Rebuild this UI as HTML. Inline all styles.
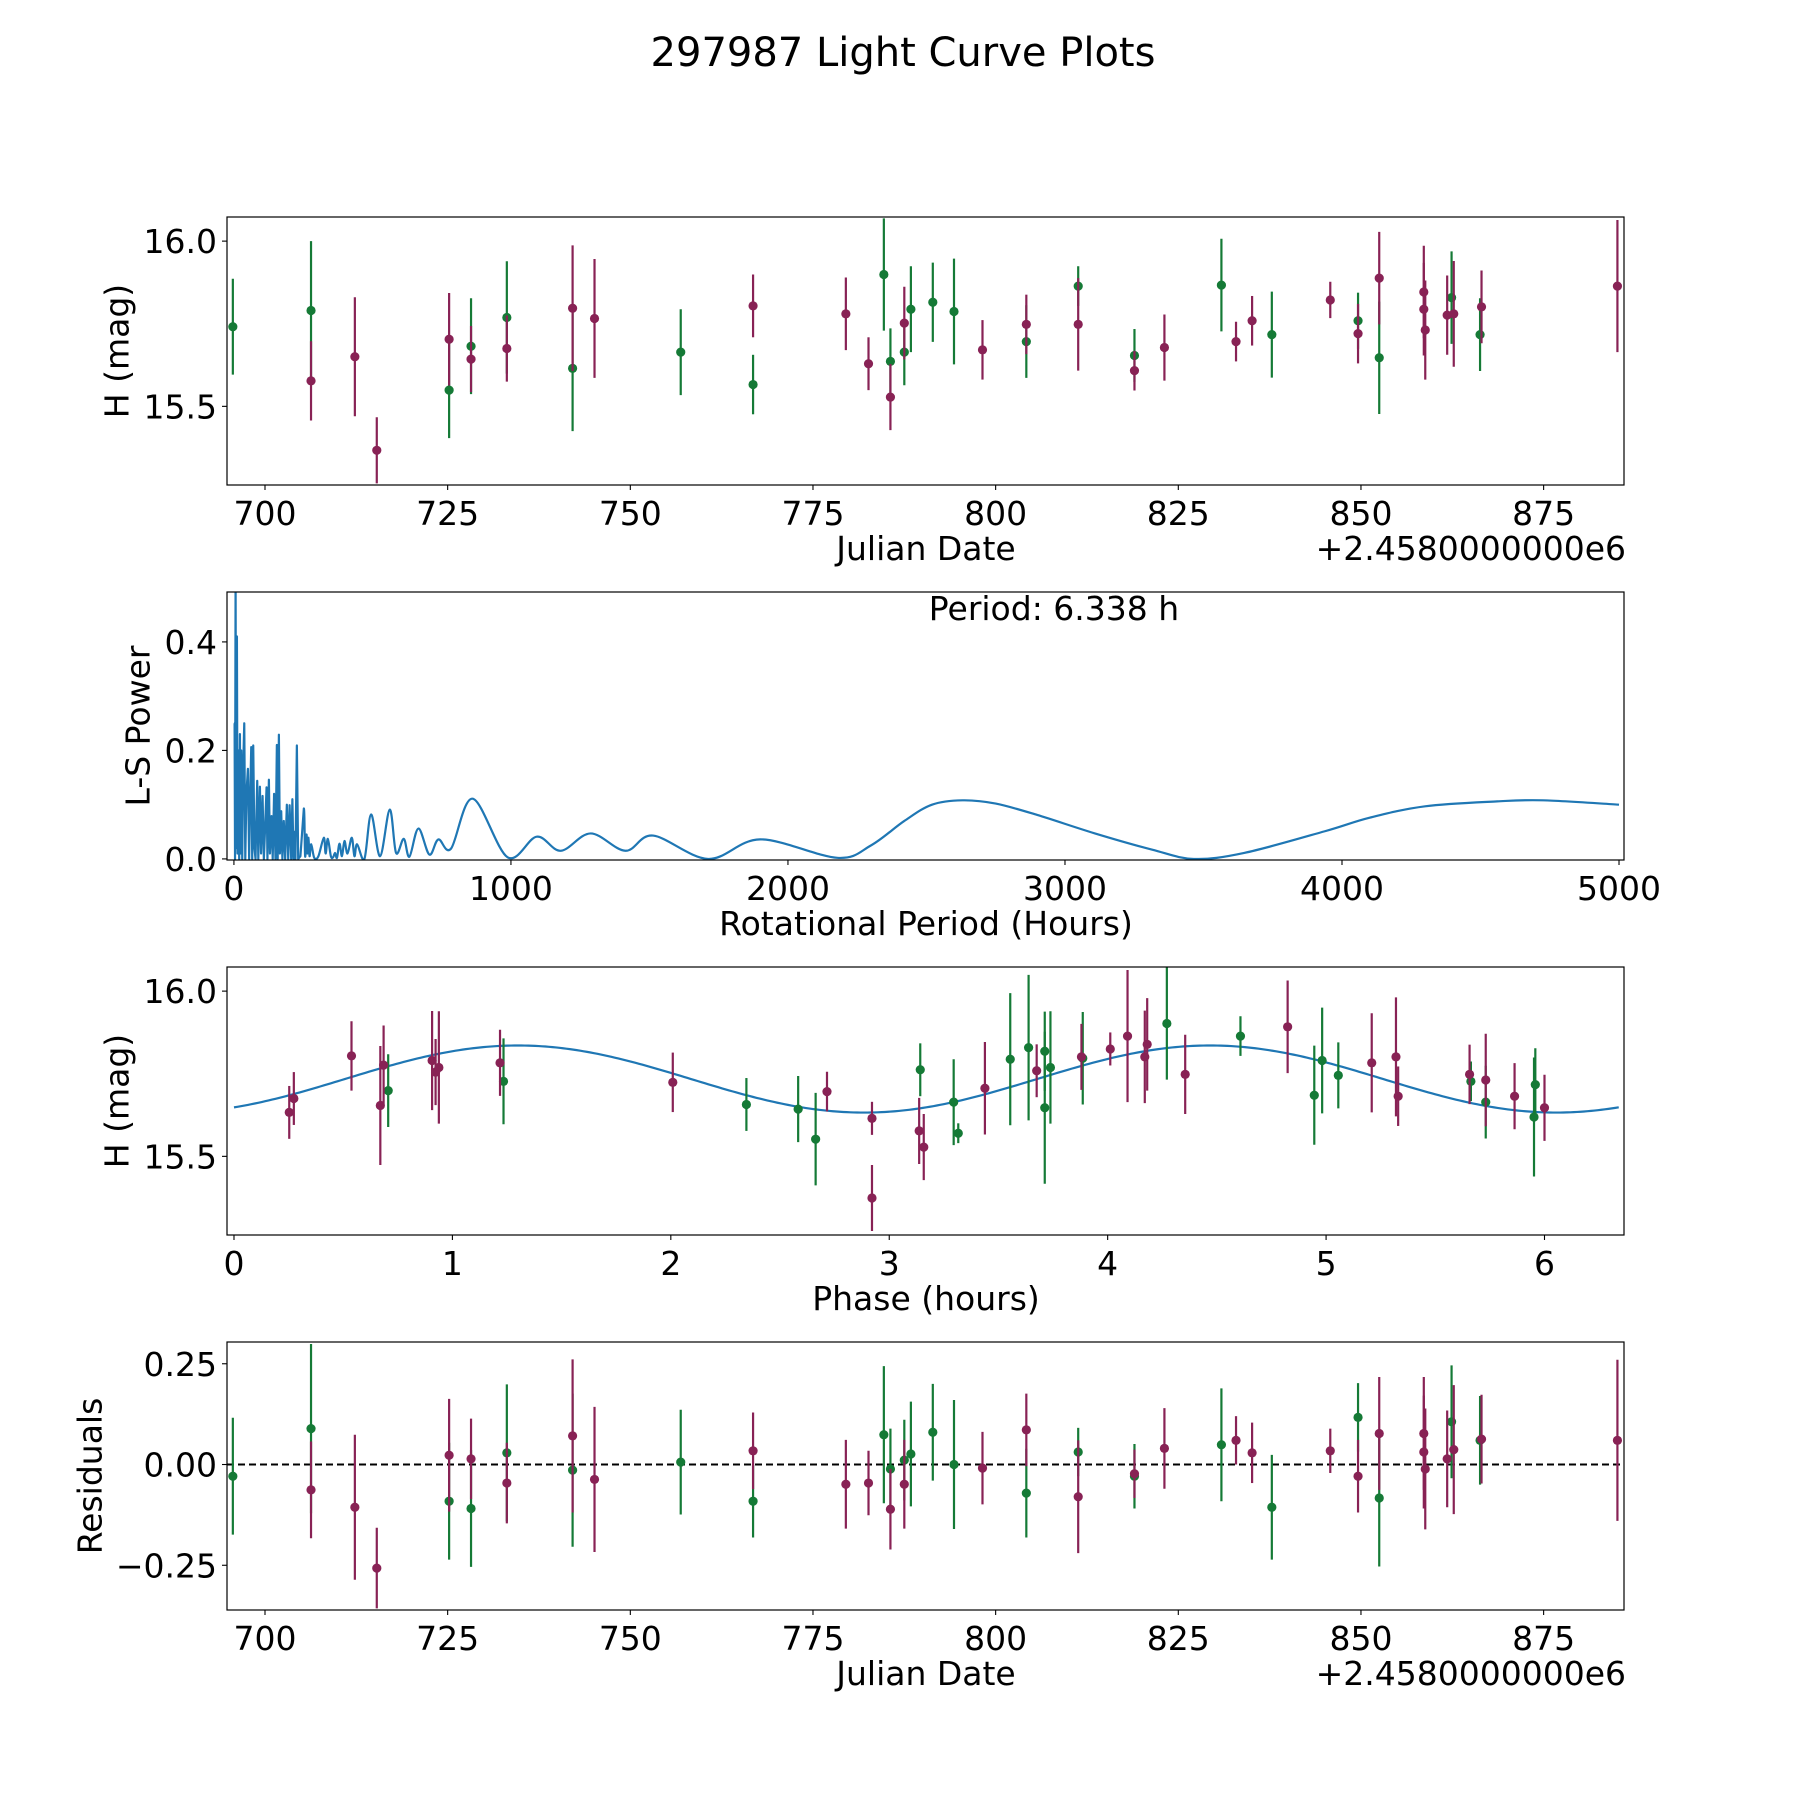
<!DOCTYPE html>
<html><head><meta charset="utf-8"><style>
html,body{margin:0;padding:0;background:#fff;}
svg text{font-family:"DejaVu Sans","Liberation Sans",sans-serif;fill:#000;}
</style></head><body>
<svg id="fig" width="1800" height="1800" viewBox="0 0 1800 1800" xmlns="http://www.w3.org/2000/svg">
<rect width="1800" height="1800" fill="#fff"/>
<text x="903" y="66" font-size="40" text-anchor="middle">297987 Light Curve Plots</text>
</svg>
<script>
// ---------- DATA ----------
const greenDates = [695.6,706.3,725.2,728.2,733.1,742.1,756.9,766.8,784.7,785.6,787.5,788.4,791.4,794.3,804.2,811.3,819.0,830.9,837.8,849.6,852.5,862.4,866.3];
const greenMags  = [15.741,15.790,15.549,15.682,15.769,15.615,15.664,15.566,15.899,15.636,15.664,15.794,15.815,15.787,15.696,15.864,15.654,15.867,15.717,15.759,15.647,15.829,15.717];
const greenErrs  = [0.145,0.21,0.145,0.145,0.17,0.19,0.13,0.09,0.17,0.10,0.10,0.13,0.12,0.16,0.11,0.06,0.08,0.14,0.13,0.085,0.17,0.14,0.11];
const greenResid = [-0.029,0.089,-0.091,-0.109,0.029,-0.014,0.006,-0.091,0.074,-0.011,0.011,0.026,0.08,0.0,-0.071,0.031,-0.029,0.049,-0.106,0.117,-0.083,0.106,0.06];
const magDates = [706.3,712.3,715.3,725.2,728.2,733.1,742.1,745.1,766.8,779.5,782.6,785.6,787.5,798.2,804.2,811.3,819.0,823.1,832.9,835.1,845.8,849.6,852.5,858.6,858.6,858.8,861.8,862.7,866.5,885.1];
const magMags  = [15.577,15.650,15.367,15.703,15.643,15.675,15.797,15.766,15.804,15.780,15.629,15.528,15.752,15.671,15.748,15.748,15.608,15.678,15.696,15.759,15.822,15.720,15.888,15.846,15.794,15.731,15.776,15.780,15.801,15.864];
const magErrs  = [0.12,0.18,0.10,0.14,0.10,0.10,0.19,0.18,0.095,0.11,0.08,0.10,0.11,0.09,0.09,0.14,0.06,0.10,0.06,0.075,0.055,0.09,0.14,0.14,0.14,0.15,0.12,0.16,0.11,0.2];
const magResid = [-0.063,-0.106,-0.257,0.023,0.014,-0.046,0.071,-0.037,0.034,-0.049,-0.046,-0.111,-0.049,-0.009,0.086,-0.08,-0.023,0.04,0.06,0.029,0.034,-0.029,0.077,0.077,0.031,-0.011,0.014,0.037,0.063,0.06];
const greenPhase = [0.706,1.234,2.346,2.583,2.663,3.142,3.295,3.316,3.554,3.638,3.712,3.712,3.738,3.886,4.271,4.608,4.946,4.982,5.056,5.663,5.731,5.952,5.958];
const greenPhaseMag = [15.699,15.727,15.657,15.643,15.552,15.762,15.664,15.570,15.794,15.829,15.818,15.647,15.769,15.797,15.902,15.864,15.685,15.790,15.745,15.727,15.664,15.619,15.717];
const greenPhaseErr = [0.11,0.13,0.08,0.10,0.14,0.08,0.13,0.03,0.20,0.22,0.12,0.23,0.17,0.14,0.17,0.06,0.15,0.16,0.10,0.06,0.11,0.18,0.11];
const magPhase = [0.253,0.274,0.538,0.670,0.685,0.907,0.923,0.938,1.218,2.009,2.715,2.921,2.921,3.137,3.158,3.438,3.675,3.880,4.012,4.091,4.170,4.181,4.355,4.824,5.209,5.320,5.330,5.657,5.731,5.863,6.000];
const magPhaseMag = [15.633,15.675,15.804,15.654,15.776,15.790,15.755,15.769,15.783,15.724,15.696,15.615,15.374,15.577,15.528,15.706,15.759,15.801,15.825,15.864,15.801,15.839,15.748,15.892,15.783,15.801,15.682,15.748,15.731,15.682,15.647];
const magPhaseErr = [0.08,0.08,0.105,0.18,0.12,0.15,0.10,0.17,0.10,0.09,0.06,0.05,0.10,0.10,0.10,0.14,0.08,0.10,0.05,0.20,0.14,0.14,0.12,0.14,0.15,0.18,0.09,0.09,0.14,0.10,0.10];
const fitMean = 15.734, fitAmp = 0.1015, fitHalfPeriod = 3.169, fitPeakPhase = 1.3;
const lsPeriods = [
 0,2.4,4,6,8,10.8,13,16,19,21.6,
 24,26.4,30,33,37.3,41,45,50.5,55,58,
 62.5,66,69.7,74,78,84.1,88,93.8,98,103.4,
 108,112,117.8,121,126.2,130,135.8,140,145,150,
 155,158,162.3,166,170.7,175,180,185,191,196,
 201,206.7,211,215,218.8,222,227.2,232,240,252.4,
 257,262,265,269,273,279,290,305,324.5,331,
 339,350,358,365,372,381,390,399,410,425.5,
 435,444.7,471,495.2,527.6,562.5,585.3,613,633.4,665.9,
 705.5,738,783.7,861.8,988,1093,1180,1288,1413,1513,
 1712,1900,2178,2300,2420,2520,2630,2750,2900,3108,
 3315,3465,3647,3938,4100,4300,4560,4726,5000];
const lsPower = [
 0.25,0.25,0.0,0.52,0.02,0.41,0.01,0.20,0.0,0.23,
 0.01,0.20,0.0,0.16,0.25,0.0,0.12,0.166,0.0,0.10,
 0.206,0.0,0.209,0.02,0.0,0.144,0.0,0.133,0.01,0.116,
 0.0,0.05,0.132,0.0,0.146,0.01,0.079,0.0,0.12,0.0,
 0.21,0.0,0.229,0.01,0.088,0.0,0.07,0.0,0.10,0.0,
 0.099,0.0,0.11,0.0,0.05,0.0,0.209,0.0,0.005,0.093,
 0.005,0.045,0.01,0.039,0.005,0.027,0.002,0.005,0.039,0.01,
 0.037,0.005,0.003,0.011,0.002,0.028,0.005,0.033,0.01,0.039,
 0.005,0.027,0.0,0.082,0.005,0.091,0.011,0.037,0.004,0.056,
 0.008,0.036,0.019,0.111,0.003,0.041,0.015,0.047,0.015,0.043,
 0.0,0.036,0.002,0.025,0.07,0.1,0.108,0.102,0.081,0.047,
 0.017,0.0,0.011,0.051,0.076,0.097,0.106,0.108,0.1];
const jdTicks = [700,725,750,775,800,825,850,875];
const magTicks = [15.5,16.0];
const lsXTicks = [0,1000,2000,3000,4000,5000];
const lsYTicks = [0.0,0.2,0.4];
const phaseTicks = [0,1,2,3,4,5,6];
const residTicks = [-0.25,0.0,0.25];

// ---------- DRAWING ----------
const NS='http://www.w3.org/2000/svg';
const svg=document.getElementById('fig');
const GREEN='#157a36', MAG='#882255', BLUE='#1f77b4';
const FS=33;
function mk(tag,attrs,parent){const e=document.createElementNS(NS,tag);for(const k in attrs)e.setAttribute(k,attrs[k]);(parent||svg).appendChild(e);return e;}
const L=227,R=1624,H=268;
function panel(id,top,xlim,ylim){
  const sx=v=>L+(v-xlim[0])/(xlim[1]-xlim[0])*(R-L);
  const sy=v=>top+H-(v-ylim[0])/(ylim[1]-ylim[0])*H;
  const cp=mk('clipPath',{id:'clip'+id});
  mk('rect',{x:L,y:top,width:R-L,height:H},cp);
  const g=mk('g',{'clip-path':'url(#clip'+id+')'});
  
  
  return {sx,sy,g,top};
}
function frame(p,id){
  const r=mk('rect',{x:L,y:p.top,width:R-L,height:H,fill:'none',stroke:'#000','stroke-width':1.2});
  
  
}
function xticks(p,ticks,fmt,id){
  ticks.forEach(t=>{const x=p.sx(t);
    const l=mk('line',{x1:x,x2:x,y1:p.top+H,y2:p.top+H+5,stroke:'#000','stroke-width':1.1});
    
    
    const tx=mk('text',{x:x,y:p.top+H+40,'font-size':FS,'text-anchor':'middle'});
    tx.textContent=fmt(t);
    
    
  });
}
function yticks(p,ticks,fmt,id){
  ticks.forEach(t=>{const y=p.sy(t);
    const l=mk('line',{x1:L-5,x2:L,y1:y,y2:y,stroke:'#000','stroke-width':1.1});
    
    
    const tx=mk('text',{x:L-10,y:y+12,'font-size':FS,'text-anchor':'end'});
    tx.textContent=fmt(t);
    
    
  });
}
function label(text,x,y,rot,name){
  const t=mk('text',{x:x,y:y,'font-size':FS,'text-anchor':'middle','dominant-baseline':rot?'central':'auto',transform:rot?`rotate(-90 ${x} ${y})`:''});
  t.textContent=text;
  
  
  return t;
}
function errpts(p,xs,ys,es,color,name){
  xs.forEach((xv,i)=>{const x=p.sx(xv);
    const l=mk('line',{x1:x,x2:x,y1:p.sy(ys[i]+es[i]),y2:p.sy(ys[i]-es[i]),stroke:color,'stroke-width':2.2},p.g);
    
    
    const c=mk('circle',{cx:x,cy:p.sy(ys[i]),r:4.6,fill:color},p.g);
    
    
  });
}
const f1=v=>v.toFixed(1), f0=v=>String(v);
const f2=v=>(v<0?'\u2212':'')+Math.abs(v).toFixed(2);
const magLim=[15.262,16.073];
const jdLim=[694.8,886.0];

// Panel 1
const p1=panel('lightcurve',217,jdLim,magLim);
errpts(p1,greenDates,greenMags,greenErrs,GREEN,'green-obs');
errpts(p1,magDates,magMags,magErrs,MAG,'magenta-obs');
frame(p1,'lightcurve');xticks(p1,jdTicks,f0,'lightcurve');yticks(p1,magTicks,f1,'lightcurve');
label('Julian Date',926,560,false,'lightcurve-x-axis-title');
const off1=mk('text',{x:1626,y:560,'font-size':FS,'text-anchor':'end'});off1.textContent='+2.4580000000e6';


label('H (mag)',117,351,true,'lightcurve-y-axis-title');

// Panel 2
const p2=panel('periodogram',592,[-25,5018],[-0.002,0.492]);
{
  const n=Math.min(lsPeriods.length,lsPower.length);
  const pts=[];for(let i=0;i<n;i++)pts.push([p2.sx(lsPeriods[i]),p2.sy(lsPower[i])]);
  let d='M'+pts[0][0]+','+pts[0][1];
  for(let i=0;i<n-1;i++){
    const p0=pts[Math.max(0,i-1)],a=pts[i],b=pts[i+1],p3=pts[Math.min(n-1,i+2)];
    if(lsPeriods[i]<250){d+=' L'+b[0]+','+b[1];continue;}
    const c1=[a[0]+(b[0]-p0[0])/6,a[1]+(b[1]-p0[1])/6],c2=[b[0]-(p3[0]-a[0])/6,b[1]-(p3[1]-a[1])/6];
    d+=` C${c1[0]},${c1[1]} ${c2[0]},${c2[1]} ${b[0]},${b[1]}`;
  }
  const path=mk('path',{d:d,fill:'none',stroke:BLUE,'stroke-width':2.2,'stroke-linejoin':'round'},p2.g);
  
  
}
frame(p2,'periodogram');xticks(p2,lsXTicks,f0,'periodogram');yticks(p2,lsYTicks,f1,'periodogram');
const pt=mk('text',{x:1054,y:620,'font-size':FS,'text-anchor':'middle'});pt.textContent='Period: 6.338 h';


label('Rotational Period (Hours)',926,935,false,'periodogram-x-axis-title');
label('L-S Power',138,726,true,'periodogram-y-axis-title');

// Panel 3
const p3=panel('phase',967,[-0.032,6.364],magLim);
{
  let d='';
  for(let i=0;i<=400;i++){const ph=6.34*i/400;
    const m=fitMean+fitAmp*Math.cos(2*Math.PI*(ph-fitPeakPhase)/fitHalfPeriod);
    d+=(i?' L':'M')+p3.sx(ph)+','+p3.sy(m);}
  const path=mk('path',{d:d,fill:'none',stroke:BLUE,'stroke-width':2.2},p3.g);
  
  
}
errpts(p3,greenPhase,greenPhaseMag,greenPhaseErr,GREEN,'green-phase');
errpts(p3,magPhase,magPhaseMag,magPhaseErr,MAG,'magenta-phase');
frame(p3,'phase');xticks(p3,phaseTicks,f0,'phase');yticks(p3,magTicks,f1,'phase');
label('Phase (hours)',926,1310,false,'phase-x-axis-title');
label('H (mag)',117,1101,true,'phase-y-axis-title');

// Panel 4
const p4=panel('residuals',1342,jdLim,[-0.361,0.304]);
{
  const z=p4.sy(0);
  const l=mk('line',{x1:L,x2:R,y1:z,y2:z,stroke:'#000','stroke-width':2,'stroke-dasharray':'7,4'},p4.g);
  
  
}
errpts(p4,greenDates,greenResid,greenErrs,GREEN,'green-resid');
errpts(p4,magDates,magResid,magErrs,MAG,'magenta-resid');
frame(p4,'residuals');xticks(p4,jdTicks,f0,'residuals');yticks(p4,residTicks,f2,'residuals');
label('Julian Date',926,1685,false,'residuals-x-axis-title');
const off4=mk('text',{x:1626,y:1685,'font-size':FS,'text-anchor':'end'});off4.textContent='+2.4580000000e6';


label('Residuals',90,1476,true,'residuals-y-axis-title');
</script>
</body></html>
